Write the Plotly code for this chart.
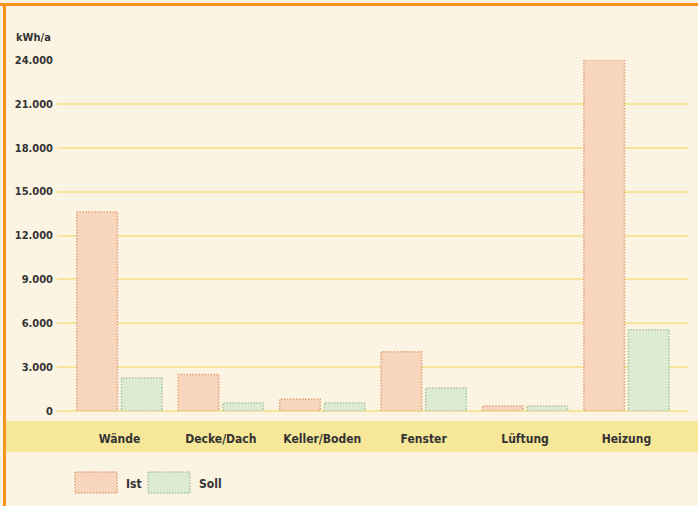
import plotly.graph_objects as go

categories = ["Wände", "Decke/Dach", "Keller/Boden", "Fenster", "Lüftung", "Heizung"]
ist_values = [13600, 2500, 800, 4050, 350, 24000]
soll_values = [2250, 550, 550, 1570, 350, 5550]
tick_vals = [0, 3000, 6000, 9000, 12000, 15000, 18000, 21000, 24000]
tick_text = ["0", "3.000", "6.000", "9.000", "12.000", "15.000", "18.000", "21.000", "24.000"]
series_names = ["Ist", "Soll"]

W, H = 698, 506
L, R, T, B = 57, 10, 60, 95
PW, PH = W - L - R, H - T - B

def px_x(px):
    return (px - L) / PW

def px_y(py):
    return (H - B - py) / PH

FONT = "DejaVu Sans Condensed, Liberation Sans Narrow, sans-serif"
TXT = "#333333"
IST_FILL, IST_LINE = "#f8d6bd", "#e3a07a"
SOLL_FILL, SOLL_LINE = "#ddebd2", "#a6c49c"
BAR_W = 0.40
IST_OFF, SOLL_OFF = -0.42, 0.02

fig = go.Figure()
fig.add_bar(x=list(range(len(categories))), y=ist_values, name=series_names[0],
            marker=dict(color=IST_FILL, line=dict(width=0)), width=BAR_W, offset=IST_OFF,
            showlegend=False)
fig.add_bar(x=list(range(len(categories))), y=soll_values, name=series_names[1],
            marker=dict(color=SOLL_FILL, line=dict(width=0)), width=BAR_W, offset=SOLL_OFF,
            showlegend=False)

shapes = []
shapes.append(dict(type="rect", xref="paper", yref="paper",
                   x0=px_x(5), x1=px_x(699), y0=px_y(452), y1=px_y(421),
                   fillcolor="#f7e899", line=dict(width=0), layer="below"))
for i, v in enumerate(ist_values):
    shapes.append(dict(type="rect", xref="x", yref="y", x0=i + IST_OFF, x1=i + IST_OFF + BAR_W,
                       y0=0, y1=v, line=dict(color=IST_LINE, width=1.5, dash="1.5px,1.5px"),
                       fillcolor="rgba(0,0,0,0)"))
for i, v in enumerate(soll_values):
    shapes.append(dict(type="rect", xref="x", yref="y", x0=i + SOLL_OFF, x1=i + SOLL_OFF + BAR_W,
                       y0=0, y1=v, line=dict(color=SOLL_LINE, width=1.5, dash="1.5px,1.5px"),
                       fillcolor="rgba(0,0,0,0)"))
shapes.append(dict(type="rect", xref="paper", yref="paper",
                   x0=px_x(75), x1=px_x(117), y0=px_y(493), y1=px_y(472),
                   fillcolor=IST_FILL, line=dict(color=IST_LINE, width=1.5, dash="1.5px,1.5px")))
shapes.append(dict(type="rect", xref="paper", yref="paper",
                   x0=px_x(148), x1=px_x(190), y0=px_y(493), y1=px_y(472),
                   fillcolor=SOLL_FILL, line=dict(color=SOLL_LINE, width=1.5, dash="1.5px,1.5px")))
shapes.append(dict(type="line", xref="paper", yref="paper",
                   x0=px_x(0), x1=px_x(W + 2), y0=px_y(4.5), y1=px_y(4.5),
                   line=dict(color="#f7941d", width=3)))
shapes.append(dict(type="line", xref="paper", yref="paper",
                   x0=px_x(4.5), x1=px_x(4.5), y0=px_y(3), y1=px_y(H + 2),
                   line=dict(color="#f7941d", width=3)))

annotations = [
    dict(text="<b>kWh/a</b>", xref="paper", yref="paper", x=px_x(14), y=px_y(38),
         xanchor="left", yanchor="middle", showarrow=False,
         font=dict(family=FONT, size=11, color=TXT)),
    dict(text="<b>" + series_names[0] + "</b>", xref="paper", yref="paper", x=px_x(124), y=px_y(484),
         xanchor="left", yanchor="middle", showarrow=False,
         font=dict(family=FONT, size=12, color=TXT)),
    dict(text="<b>" + series_names[1] + "</b>", xref="paper", yref="paper", x=px_x(197), y=px_y(484),
         xanchor="left", yanchor="middle", showarrow=False,
         font=dict(family=FONT, size=12, color=TXT)),
]

fig.update_layout(
    width=W, height=H,
    margin=dict(l=L, r=R, t=T, b=B, pad=0),
    paper_bgcolor="#fcf4e2", plot_bgcolor="#fcf4e2",
    font=dict(family=FONT, size=12, color=TXT),
    shapes=shapes, annotations=annotations,
    showlegend=False,
    xaxis=dict(range=[-0.616, 5.607], tickmode="array",
               tickvals=list(range(len(categories))), ticktext=categories,
               showgrid=False, zeroline=False, showline=False, ticks="",
               ticklabelstandoff=19, tickfont=dict(size=12, color=TXT, weight="bold"),
               fixedrange=True),
    yaxis=dict(range=[0, 24000], tickmode="array", tickvals=tick_vals, ticktext=tick_text,
               showgrid=True, gridcolor="#f6e49c", gridwidth=1.5,
               zeroline=True, zerolinecolor="#f6e49c", zerolinewidth=1.5,
               showline=False, ticks="", ticklabelstandoff=3,
               tickfont=dict(size=11, color=TXT, weight="bold"), fixedrange=True),
)

fig.write_html("out.html")
